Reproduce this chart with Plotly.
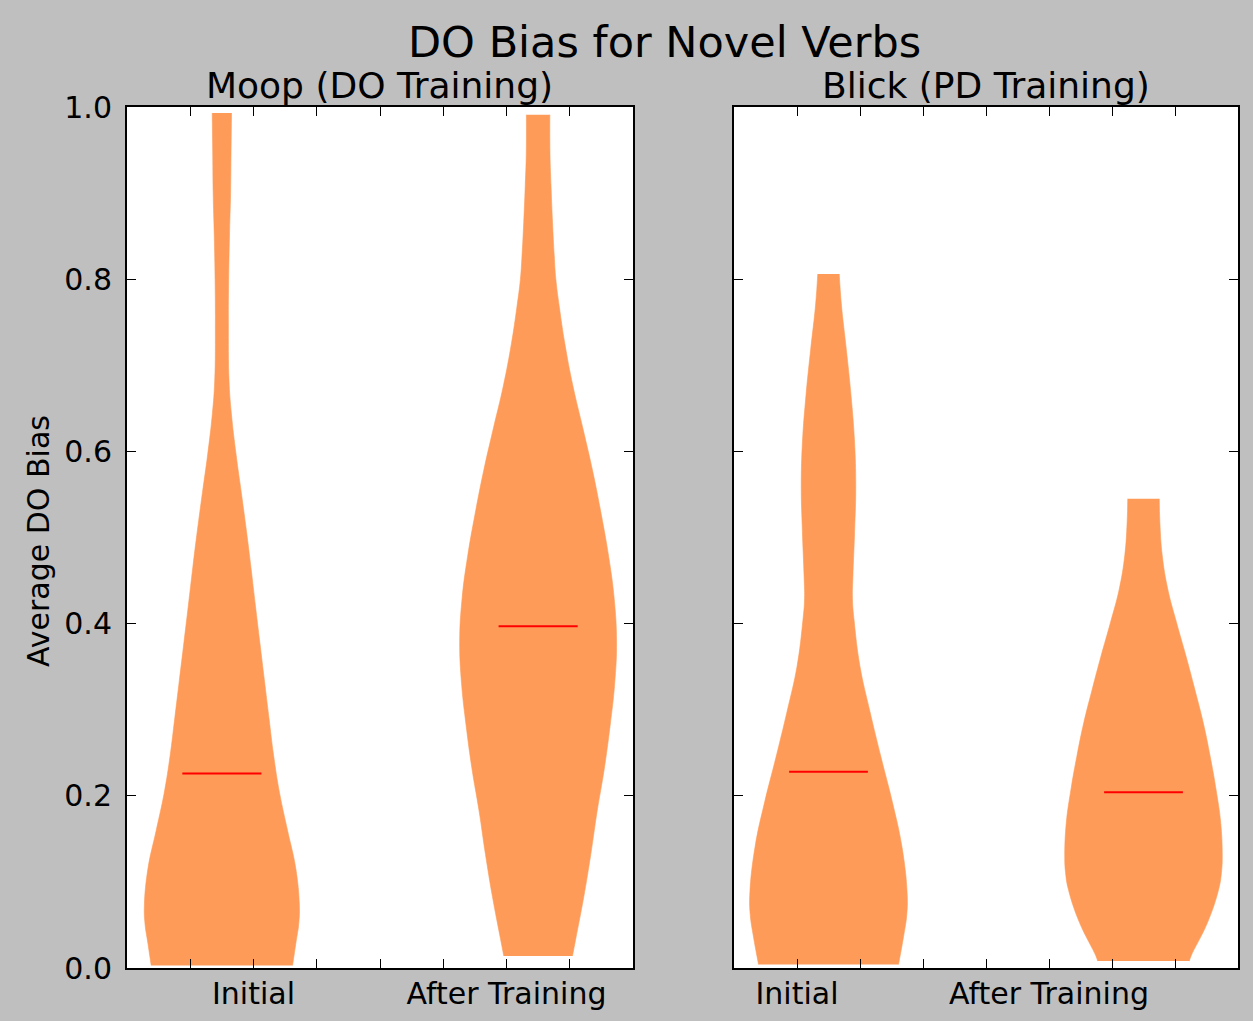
import numpy as np
import plotly.graph_objects as go

# Violin positions and labels
positions = [1, 2]
left_ticktext = ["", "Initial", "", "", "", "After Training", ""]
right_ticktext = ["Initial", "", "", "", "After Training", "", ""]
x_tickvals = [0.9, 1.1, 1.3, 1.5, 1.7, 1.9, 2.1]
y_tickvals = [0.0, 0.2, 0.4, 0.6, 0.8, 1.0]

# Density profiles (level, full width in x units) for each violin
moop_initial_levels = [0.003, 0.029, 0.051, 0.073, 0.116, 0.160, 0.203, 0.247, 0.290, 0.334,
                       0.378, 0.421, 0.465, 0.508, 0.552, 0.596, 0.644, 0.683, 0.75, 0.80,
                       0.85, 0.90, 0.95, 0.993]
moop_initial_widths = [0.447, 0.468, 0.486, 0.490, 0.467, 0.415, 0.365, 0.327, 0.298, 0.269,
                       0.240, 0.212, 0.184, 0.155, 0.123, 0.090, 0.060, 0.045, 0.041, 0.043,
                       0.048, 0.055, 0.058, 0.061]

moop_after_levels = [0.014, 0.034, 0.083, 0.132, 0.182, 0.231, 0.281, 0.330, 0.379, 0.429,
                     0.478, 0.527, 0.577, 0.626, 0.676, 0.725, 0.768, 0.80, 0.827, 0.866,
                     0.906, 0.945, 0.991]
moop_after_widths = [0.217, 0.238, 0.289, 0.333, 0.373, 0.418, 0.455, 0.484, 0.496, 0.481,
                     0.446, 0.399, 0.345, 0.284, 0.220, 0.169, 0.134, 0.112, 0.102, 0.091,
                     0.082, 0.075, 0.074]

blick_initial_levels = [0.004, 0.036, 0.062, 0.088, 0.141, 0.193, 0.245, 0.298, 0.350, 0.403,
                        0.429, 0.455, 0.508, 0.560, 0.612, 0.665, 0.717, 0.770, 0.806]
blick_initial_widths = [0.444, 0.476, 0.497, 0.499, 0.466, 0.405, 0.333, 0.263, 0.200, 0.163,
                        0.152, 0.155, 0.166, 0.173, 0.165, 0.143, 0.114, 0.082, 0.068]

blick_after_levels = [0.008, 0.014, 0.053, 0.092, 0.111, 0.130, 0.169, 0.208, 0.246, 0.285,
                      0.324, 0.362, 0.401, 0.440, 0.479, 0.517, 0.545]
blick_after_widths = [0.291, 0.302, 0.407, 0.478, 0.495, 0.500, 0.490, 0.460, 0.423, 0.379,
                      0.325, 0.270, 0.210, 0.154, 0.119, 0.104, 0.100]

moop_means = [0.226, 0.397]
blick_means = [0.228, 0.204]
mean_line_width = 0.25

VIOLIN_COLOR = "#fe9b58"
MEAN_COLOR = "#ff0000"
FONT = "DejaVu Sans"

fig = go.Figure()


def add_violin(pos, levels, widths, xaxis, yaxis):
    """Left and right smooth edges, filled between them (flat ends stay square)."""
    lv = np.asarray(levels)
    hw = np.asarray(widths) / 2.0
    edge = dict(width=0.6, color=VIOLIN_COLOR, shape="spline", smoothing=1.2)
    fig.add_trace(go.Scatter(
        x=pos - hw, y=lv, mode="lines", line=edge,
        hoverinfo="skip", showlegend=False, xaxis=xaxis, yaxis=yaxis))
    fig.add_trace(go.Scatter(
        x=pos + hw, y=lv, mode="lines", line=edge, fill="tonextx",
        fillcolor=VIOLIN_COLOR,
        hoverinfo="skip", showlegend=False, xaxis=xaxis, yaxis=yaxis))


def add_means(means, xaxis, yaxis):
    for pos, m in zip(positions, means):
        fig.add_trace(go.Scatter(
            x=[pos - mean_line_width / 2, pos + mean_line_width / 2], y=[m, m],
            mode="lines", line=dict(color=MEAN_COLOR, width=2),
            hoverinfo="skip", showlegend=False, xaxis=xaxis, yaxis=yaxis))


add_violin(positions[0], moop_initial_levels, moop_initial_widths, "x", "y")
add_violin(positions[1], moop_after_levels, moop_after_widths, "x", "y")
add_violin(positions[0], blick_initial_levels, blick_initial_widths, "x2", "y2")
add_violin(positions[1], blick_after_levels, blick_after_widths, "x2", "y2")
add_means(moop_means, "x", "y")
add_means(blick_means, "x2", "y2")

W, H = 1253, 1021
y_dom = [1 - 968 / H, 1 - 107 / H]

axis_common = dict(
    showline=True, linecolor="black", linewidth=2, mirror="ticks",
    ticks="inside", ticklen=9, tickwidth=1.2, tickcolor="black",
    showgrid=False, zeroline=False, automargin=False,
    tickfont=dict(family=FONT, size=30, color="black"),
)

fig.update_layout(
    template="none",
    width=W, height=H,
    margin=dict(l=0, r=0, t=0, b=0, pad=0, autoexpand=False),
    paper_bgcolor="#bfbfbf", plot_bgcolor="white",
    xaxis=dict(domain=[127 / W, 633 / W], range=[0.7, 2.3],
               tickvals=x_tickvals, ticktext=left_ticktext, anchor="y",
               ticklabelstandoff=-2, **axis_common),
    yaxis=dict(domain=y_dom, range=[0, 1], tickvals=y_tickvals, tickformat=".1f",
               anchor="x", ticklabelstandoff=7, **axis_common),
    xaxis2=dict(domain=[734 / W, 1238 / W], range=[0.7, 2.3],
                tickvals=x_tickvals, ticktext=right_ticktext, anchor="y2",
                ticklabelstandoff=-2, **axis_common),
    yaxis2=dict(domain=y_dom, range=[0, 1], tickvals=y_tickvals,
                showticklabels=False, anchor="x2", **axis_common),
)

annotations = [
    dict(text="DO Bias for Novel Verbs", x=664 / W, y=1 - 42 / H,
         font=dict(family=FONT, size=43, color="black")),
    dict(text="Moop (DO Training)", x=380 / W, y=1 - 85 / H,
         font=dict(family=FONT, size=36, color="black")),
    dict(text="Blick (PD Training)", x=986 / W, y=1 - 85 / H,
         font=dict(family=FONT, size=36, color="black")),
    dict(text="Average DO Bias", x=38 / W, y=1 - 541 / H, textangle=-90,
         font=dict(family=FONT, size=30, color="black")),
]
for a in annotations:
    fig.add_annotation(xref="paper", yref="paper", xanchor="center", yanchor="middle",
                       showarrow=False, **a)

fig.write_html("out.html")
